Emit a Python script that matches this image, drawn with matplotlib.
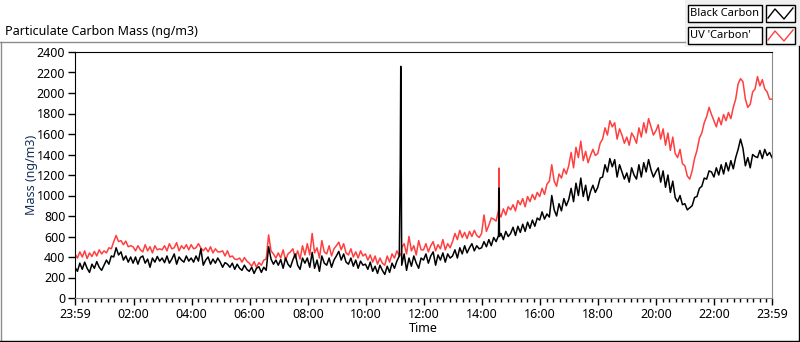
import numpy as np
import matplotlib
matplotlib.use("Agg")
import matplotlib.pyplot as plt
from matplotlib.lines import Line2D
from matplotlib.patches import Rectangle

plt.rcParams["font.family"] = ["Noto Sans", "DejaVu Sans"]
plt.rcParams["font.size"] = 9

RED = "#ff3f3f"
GRAY = "#8c8c8c"
NAVY = "#14305a"

# minutes after 23:59 (previous day), one value every 5 minutes, one row per hour
black = [
    300, 260, 340, 280, 350, 290, 250, 330, 290, 355, 300, 270,
    320, 370, 330, 410, 400, 490, 420, 450, 370, 410, 350, 400,
    340, 400, 330, 395, 410, 340, 380, 300, 390, 350, 405, 360,
    390, 345, 410, 340, 380, 430, 330, 400, 370, 350, 410, 360,
    390, 350, 410, 360, 480, 320, 370, 400, 330, 380, 340, 390,
    350, 300, 345, 330, 300, 340, 280, 330, 290, 270, 320, 280,
    260, 300, 240, 290, 305, 250, 300, 270, 500, 380, 330, 370,
    320, 375, 290, 390, 330, 300, 370, 430, 320, 280, 390, 340,
    390, 300, 445, 290, 370, 260, 410, 340, 320, 390, 300, 370,
    410, 455, 370, 430, 350, 330, 390, 310, 370, 290, 360, 320,
    330, 280, 350, 260, 310, 240, 320, 270, 230, 310, 250, 340,
    290, 360, 410, 320, 430, 270, 390, 310, 410, 340, 290, 390,
    370, 430, 340, 410, 450, 320, 420, 370, 440, 350, 430, 390,
    410, 470, 390, 490, 430, 510, 440, 490, 530, 460, 510, 480,
    490, 550, 500, 570, 510, 590, 550, 610, 630, 570, 650, 600,
    630, 690, 610, 700, 640, 720, 650, 740, 680, 760, 700, 780,
    760, 840, 770, 820, 790, 1000, 860, 800, 920, 850, 970, 900,
    960, 1070, 940, 1120, 1000, 1170, 990, 1100, 950, 1040, 1100, 1030,
    1080, 1170, 1180, 1300, 1230, 1360, 1280, 1350, 1180, 1300, 1230, 1160,
    1220, 1130, 1270, 1200, 1160, 1300, 1180, 1320, 1230, 1350, 1250, 1180,
    1230, 1270, 1130, 1240, 1080, 1200, 1030, 1140, 980, 940, 1000, 910,
    920, 860, 880, 900, 980, 990, 1070, 1090, 1170, 1160, 1240, 1230,
    1180, 1270, 1200, 1300, 1210, 1320, 1240, 1340, 1260, 1370, 1450, 1550,
    1460, 1290, 1370, 1270, 1400, 1380, 1370, 1440, 1360, 1450, 1390, 1420,
    1370,
]
uv = [
    430, 390, 450, 400, 460, 385, 440, 405, 455, 410, 470, 430,
    460, 440, 490, 480, 550, 610, 550, 560, 520, 555, 500, 510,
    500, 460, 510, 470, 450, 520, 460, 500, 440, 510, 470, 480,
    470, 510, 460, 530, 480, 490, 540, 460, 510, 480, 520, 470,
    520, 480, 490, 530, 490, 460, 490, 450, 500, 440, 480, 450,
    450, 460, 410, 460, 400, 410, 380, 375, 390, 350, 395, 360,
    340, 310, 355, 300, 345, 320, 370, 380, 615, 460, 430, 390,
    440, 390, 470, 370, 430, 450, 480, 390, 460, 380, 510, 420,
    530, 420, 630, 440, 490, 390, 560, 450, 430, 510, 410, 480,
    510, 545, 470, 530, 440, 420, 480, 400, 450, 390, 460, 410,
    430, 370, 420, 350, 410, 330, 390, 340, 320, 410, 350, 430,
    390, 460, 410, 490, 530, 430, 600, 460, 510, 420, 560, 470,
    470, 530, 450, 510, 550, 460, 520, 480, 570, 470, 530, 490,
    550, 630, 570, 660, 590, 640, 580, 650, 600, 660, 610, 590,
    630, 810, 650, 710, 780, 770, 750, 860, 790, 870, 810, 890,
    860, 910, 850, 950, 910, 970, 890, 990, 940, 1010, 960, 1030,
    990, 1070, 1010, 1110, 1140, 1300, 1140, 1090, 1210, 1170, 1260, 1210,
    1290, 1420, 1270, 1470, 1370, 1530, 1340, 1430, 1320, 1390, 1450, 1390,
    1410, 1510, 1550, 1660, 1590, 1730, 1670, 1710, 1550, 1650, 1590, 1510,
    1570, 1490, 1610, 1570, 1510, 1660, 1570, 1710, 1610, 1750, 1670, 1590,
    1630, 1690, 1550, 1650, 1490, 1610, 1440, 1570, 1410, 1370, 1450, 1310,
    1290, 1190, 1160, 1240, 1360, 1440, 1560, 1610, 1710, 1770, 1860, 1790,
    1730, 1670, 1760, 1690, 1790, 1730, 1810, 1750, 1860, 1940, 2090, 2140,
    2110, 1940, 1860, 1890, 2010, 2040, 2160, 2070, 2130, 2040, 2010, 1940,
    1940,
]
# short spikes (single-minute readings)
spike_t = [672, 673, 674, 876, 877]
spike_black = [1300, 2260, 1250, 1073, 600]
spike_uv = [420, 430, 410, 1268, 820]

tick_labels = ["23:59", "02:00", "04:00", "06:00", "08:00", "10:00", "12:00",
               "14:00", "16:00", "18:00", "20:00", "22:00", "23:59"]
tick_pos = [0] + [121 + 120 * k for k in range(11)] + [1440]

t = np.concatenate([np.arange(0, 1441, 5), spike_t])
order = np.argsort(t, kind="stable")
t = t[order]
b = np.concatenate([black, spike_black])[order]
u = np.concatenate([uv, spike_uv])[order]

W, H = 800, 342
fig = plt.figure(figsize=(W / 100, H / 100), dpi=100)


def fx(x):
    return x / W


def fy(y):
    return 1 - y / H


ax = fig.add_axes([fx(75), fy(298), fx(772) - fx(75), fy(52) - fy(298)])
ax.plot(t, u, color=RED, lw=1.1)
ax.plot(t, b, color="black", lw=1.1)

ax.set_xlim(0, 1440)
ax.set_ylim(0, 2400)
ax.set_yticks(np.arange(0, 2401, 200))
ax.set_xticks(tick_pos)
ax.set_xticklabels(tick_labels)
minor = [121 + k * 120 / 9 for k in range(-9, 100)]
ax.set_xticks([m for m in minor if 0 < m < 1440 and all(abs(m - p) > 1.5 for p in tick_pos)], minor=True)
ax.tick_params(axis="both", which="major", length=5, width=1, color="black", pad=2)
ax.tick_params(axis="x", which="minor", length=3, width=1, color="black")
for s in ["top", "left"]:
    ax.spines[s].set_color("black")
for s in ["right", "bottom"]:
    ax.spines[s].set_color(GRAY)
ax.set_xlabel("Time", labelpad=1)
ax.set_ylabel("Mass (ng/m3)", color=NAVY, labelpad=-1)

# title and outer frame
fig.text(fx(5), fy(31), "Particulate Carbon Mass (ng/m3)", va="center", ha="left", fontsize=9)
fig.add_artist(Line2D([fx(0), fx(685)], [fy(41.5), fy(41.5)], color=GRAY, lw=1))
fig.add_artist(Line2D([fx(0.5), fx(0.5)], [fy(41.5), fy(340.5)], color=GRAY, lw=1))
fig.add_artist(Line2D([fx(0), fx(798.5)], [fy(340.5), fy(340.5)], color="black", lw=1))
fig.add_artist(Line2D([fx(798.5), fx(798.5)], [fy(46), fy(340.5)], color="black", lw=1))

# legend panel
fig.add_artist(Rectangle((fx(685), fy(47)), fx(800) - fx(685), fy(0) - fy(47),
                         transform=fig.transFigure, facecolor="#f0f0f0", edgecolor="none"))
for row, (name, col) in enumerate([("Black Carbon", "black"), ("UV 'Carbon'", RED)]):
    y0 = 5 + row * 22
    fig.add_artist(Rectangle((fx(688), fy(y0 + 17)), fx(762) - fx(688), fy(y0) - fy(y0 + 17),
                             transform=fig.transFigure, facecolor="white", edgecolor="black", lw=1))
    fig.text(fx(690), fy(y0 + 8.5), name, va="center", ha="left", fontsize=8)
    fig.add_artist(Rectangle((fx(766), fy(y0 + 17)), fx(795) - fx(766), fy(y0) - fy(y0 + 17),
                             transform=fig.transFigure, facecolor="white", edgecolor="black", lw=1))
    fig.add_artist(Line2D([fx(768), fx(775), fx(784), fx(793)],
                          [fy(y0 + 13), fy(y0 + 4), fy(y0 + 14), fy(y0 + 3)], color=col, lw=1))

fig.savefig("out.png", dpi=100, facecolor="white")
